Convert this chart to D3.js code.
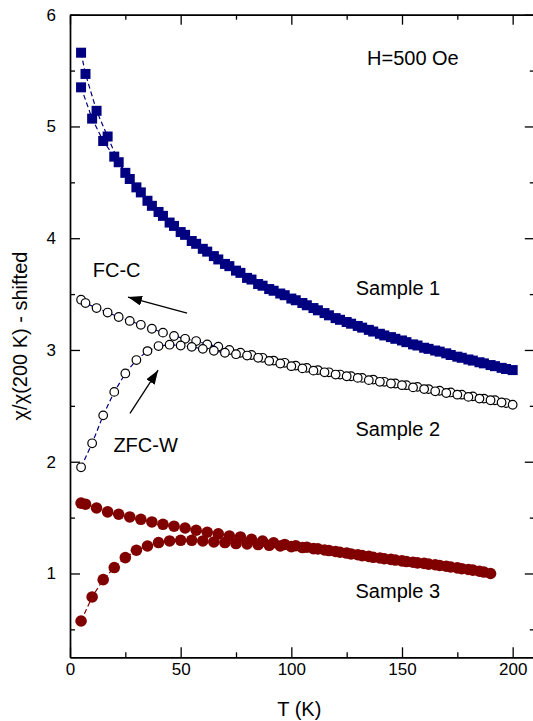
<!DOCTYPE html>
<html>
<head>
<meta charset="utf-8">
<script src="https://cdn.jsdelivr.net/npm/d3@7"></script>
<style>
  body { margin: 0; background: #fff; }
  svg { display: block; }
  text { font-family: "Liberation Sans", Arial, sans-serif; fill: #000; }
</style>
</head>
<body>
<svg id="chart" width="533" height="721"></svg>
<script>
// Temperatures (K) of the field-cooled (cooling) and zero-field-cooled (warming) runs
const fcTemps = [5,7,12,17,22,27,32,37,42,47,52,57,62,67,72,77,82,87,92,97,
                 102,107,112,117,122,127,132,137,142,147,152,157,162,167,172,177,182,187,192,197];
const zfcTemps = [5,10,15,20,25,30,35,40,45,50,55,60,65,70,75,80,85,90,95,100,
                  105,110,115,120,125,130,135,140,145,150,155,160,165,170,175,180,185,190,195,200];
const fcTemps3 = [5,7,12,17,22,27,32,37,42,47,52,57,62,67,72,77,82,87,92,97,
                  102,107,112,117,122,127,132,137,142,147,152,157,162,167,172,177,182,187];
const zfcTemps3 = [5,10,15,20,25,30,35,40,45,50,55,60,65,70,75,80,85,90,95,100,
                   105,110,115,120,125,130,135,140,145,150,155,160,165,170,175,180,185,190];

// Sample 1 (shifted)
const s1FC = [5.66,5.47,5.14,4.91,4.68,4.53,4.41,4.29,4.20,4.11,4.03,3.95,3.88,3.81,3.75,3.69,3.63,3.575,3.53,3.49,
              3.445,3.40,3.355,3.31,3.27,3.235,3.20,3.165,3.13,3.10,3.07,3.04,3.01,2.985,2.955,2.93,2.905,2.88,2.855,2.83];
const s1ZFC = [5.35,5.07,4.87,4.73,4.585,4.455,4.335,4.235,4.14,4.055,3.975,3.905,3.84,3.77,3.71,3.645,3.59,3.545,3.505,3.46,
               3.42,3.375,3.33,3.285,3.25,3.215,3.18,3.145,3.115,3.085,3.05,3.02,2.995,2.97,2.94,2.915,2.89,2.865,2.84,2.82];
// Sample 2 (shifted)
const s2FC = [3.45,3.42,3.375,3.335,3.295,3.26,3.225,3.19,3.155,3.125,3.10,3.08,3.05,3.03,3.00,2.975,2.955,2.93,2.905,2.885,
              2.86,2.84,2.82,2.80,2.78,2.765,2.75,2.735,2.715,2.70,2.685,2.67,2.65,2.635,2.62,2.60,2.585,2.565,2.55,2.525];
const s2ZFC = [1.95,2.165,2.415,2.625,2.79,2.91,2.99,3.035,3.047,3.04,3.028,3.01,2.993,2.975,2.962,2.95,2.93,2.902,2.879,2.855,
               2.835,2.815,2.80,2.78,2.765,2.75,2.73,2.715,2.70,2.685,2.665,2.65,2.63,2.615,2.60,2.58,2.565,2.55,2.53,2.51];
// Sample 3
const s3FC = [1.63,1.62,1.586,1.551,1.53,1.506,1.485,1.461,1.44,1.423,1.407,1.387,1.369,1.354,1.336,1.327,1.305,1.29,1.275,1.26,
              1.248,1.235,1.22,1.205,1.19,1.175,1.16,1.145,1.132,1.12,1.107,1.095,1.084,1.072,1.058,1.043,1.03,1.013];
const s3ZFC = [0.575,0.79,0.945,1.053,1.142,1.208,1.246,1.277,1.291,1.297,1.297,1.291,1.282,1.277,1.268,1.265,1.259,1.252,1.246,1.24,
               1.232,1.222,1.21,1.197,1.183,1.168,1.153,1.139,1.126,1.113,1.101,1.09,1.078,1.065,1.05,1.036,1.02,1.0];

// Axis ticks
const xMajorTicks = [0, 50, 100, 150, 200];
const xMinorTicks = [25, 75, 125, 175];
const yMajorTicks = [1, 2, 3, 4, 5, 6];
const yMinorTicks = [0.5, 1.5, 2.5, 3.5, 4.5, 5.5];

const W = 533, H = 721;
const margin = { top: 14.7, left: 70, bottom: 63.7 };
const plotRight = 534.8;
const svg = d3.select("#chart");

const x = d3.scaleLinear().domain([0, 210]).range([margin.left, plotRight]);
const y = d3.scaleLinear().domain([0.25, 6]).range([H - margin.bottom, margin.top]);

const zip = (ts, vs) => ts.map((t, i) => ({ t, v: vs[i] }));

const NAVY = "#000080", MAROON = "#800000";

const series = [
  { data: zip(fcTemps, s1FC),   mark: "square", color: NAVY },
  { data: zip(zfcTemps, s1ZFC), mark: "square", color: NAVY },
  { data: zip(fcTemps, s2FC),   mark: "open",   color: NAVY },
  { data: zip(zfcTemps, s2ZFC), mark: "open",   color: NAVY },
  { data: zip(fcTemps3, s3FC),  mark: "dot",    color: MAROON },
  { data: zip(zfcTemps3, s3ZFC),mark: "dot",    color: MAROON }
];

const line = d3.line().x(d => x(d.t)).y(d => y(d.v));

// dashed connecting lines under the markers
const gLines = svg.append("g");
series.forEach(s => {
  gLines.append("path")
    .datum(s.data)
    .attr("d", line)
    .attr("fill", "none")
    .attr("stroke", s.color)
    .attr("stroke-width", 1.2)
    .attr("stroke-dasharray", "5,3");
});

// markers
const gMarks = svg.append("g");
series.forEach(s => {
  const g = gMarks.append("g");
  if (s.mark === "square") {
    g.selectAll("rect").data(s.data).join("rect")
      .attr("x", d => x(d.t) - 5)
      .attr("y", d => y(d.v) - 5)
      .attr("width", 10).attr("height", 10)
      .attr("fill", s.color);
  } else if (s.mark === "open") {
    g.selectAll("circle").data(s.data).join("circle")
      .attr("cx", d => x(d.t)).attr("cy", d => y(d.v))
      .attr("r", 4.3)
      .attr("fill", "#fff")
      .attr("stroke", "#000")
      .attr("stroke-width", 1.2);
  } else {
    g.selectAll("circle").data(s.data).join("circle")
      .attr("cx", d => x(d.t)).attr("cy", d => y(d.v))
      .attr("r", 5.8)
      .attr("fill", s.color);
  }
});

// axes: ticks pointing inward on all four sides
const axisG = svg.append("g").attr("class", "axes");
const styleAxis = g => {
  g.selectAll("path.domain").attr("stroke", "#000").attr("stroke-width", 1.4);
  g.selectAll(".tick line").attr("stroke", "#000").attr("stroke-width", 1.3);
  g.selectAll(".tick text").attr("font-size", 17).attr("fill", "#000");
};
const yBottom = H - margin.bottom;

axisG.append("g").attr("transform", `translate(0,${yBottom})`)
  .call(d3.axisBottom(x).tickValues(xMajorTicks).tickSize(-10).tickSizeOuter(0).tickPadding(6).tickFormat(d3.format("d")))
  .call(styleAxis).attr("font-family", null);
axisG.append("g").attr("transform", `translate(0,${yBottom})`)
  .call(d3.axisBottom(x).tickValues(xMinorTicks).tickSize(-5).tickSizeOuter(0).tickFormat(""))
  .call(styleAxis);
axisG.append("g").attr("transform", `translate(0,${margin.top})`)
  .call(d3.axisTop(x).tickValues(xMajorTicks).tickSize(-10).tickSizeOuter(0).tickFormat(""))
  .call(styleAxis);
axisG.append("g").attr("transform", `translate(0,${margin.top})`)
  .call(d3.axisTop(x).tickValues(xMinorTicks).tickSize(-5).tickSizeOuter(0).tickFormat(""))
  .call(styleAxis);

axisG.append("g").attr("transform", `translate(${margin.left},0)`)
  .call(d3.axisLeft(y).tickValues(yMajorTicks).tickSize(-10).tickSizeOuter(0).tickPadding(14).tickFormat(d3.format("d")))
  .call(styleAxis).attr("font-family", null);
axisG.append("g").attr("transform", `translate(${margin.left},0)`)
  .call(d3.axisLeft(y).tickValues(yMinorTicks).tickSize(-5).tickSizeOuter(0).tickFormat(""))
  .call(styleAxis);
axisG.append("g").attr("transform", `translate(${plotRight},0)`)
  .call(d3.axisRight(y).tickValues(yMajorTicks).tickSize(-10).tickSizeOuter(0).tickFormat(""))
  .call(styleAxis);
axisG.append("g").attr("transform", `translate(${plotRight},0)`)
  .call(d3.axisRight(y).tickValues(yMinorTicks).tickSize(-5).tickSizeOuter(0).tickFormat(""))
  .call(styleAxis);

// axis titles
svg.append("text")
  .attr("x", (margin.left + x(200)) / 2 + 8)
  .attr("y", 716)
  .attr("text-anchor", "middle")
  .attr("font-size", 20)
  .text("T (K)");
svg.append("text")
  .attr("transform", `translate(27,${(margin.top + yBottom) / 2}) rotate(-90)`)
  .attr("text-anchor", "middle")
  .attr("font-size", 20)
  .text("χ/χ(200 K) - shifted");

// annotations (placed in data units)
const labels = [
  { text: "H=500 Oe", t: 134.2, v: 5.55 },
  { text: "Sample 1", t: 129.1, v: 3.49 },
  { text: "Sample 2", t: 129.0, v: 2.23 },
  { text: "Sample 3", t: 129.0, v: 0.78 },
  { text: "FC-C",     t: 10.3,  v: 3.654 },
  { text: "ZFC-W",    t: 19.6,  v: 2.088 }
];
svg.append("g").selectAll("text").data(labels).join("text")
  .attr("x", d => x(d.t)).attr("y", d => y(d.v))
  .attr("font-size", 20)
  .text(d => d.text);

// arrows pointing to the cooling and warming branches
const arrows = [
  { from: [52.9, 3.329], to: [26.2, 3.473] },
  { from: [27.1, 2.432], to: [39.8, 2.819] }
];
svg.append("defs").append("marker")
  .attr("id", "head")
  .attr("viewBox", "0 0 14 10")
  .attr("refX", 14).attr("refY", 5)
  .attr("markerWidth", 14).attr("markerHeight", 10)
  .attr("markerUnits", "userSpaceOnUse")
  .attr("orient", "auto")
  .append("path").attr("d", "M0,0 L14,5 L0,10 Z").attr("fill", "#000");
svg.append("g").selectAll("line").data(arrows).join("line")
  .attr("x1", d => x(d.from[0])).attr("y1", d => y(d.from[1]))
  .attr("x2", d => x(d.to[0])).attr("y2", d => y(d.to[1]))
  .attr("stroke", "#000").attr("stroke-width", 1.3)
  .attr("marker-end", "url(#head)");
</script>
</body>
</html>
